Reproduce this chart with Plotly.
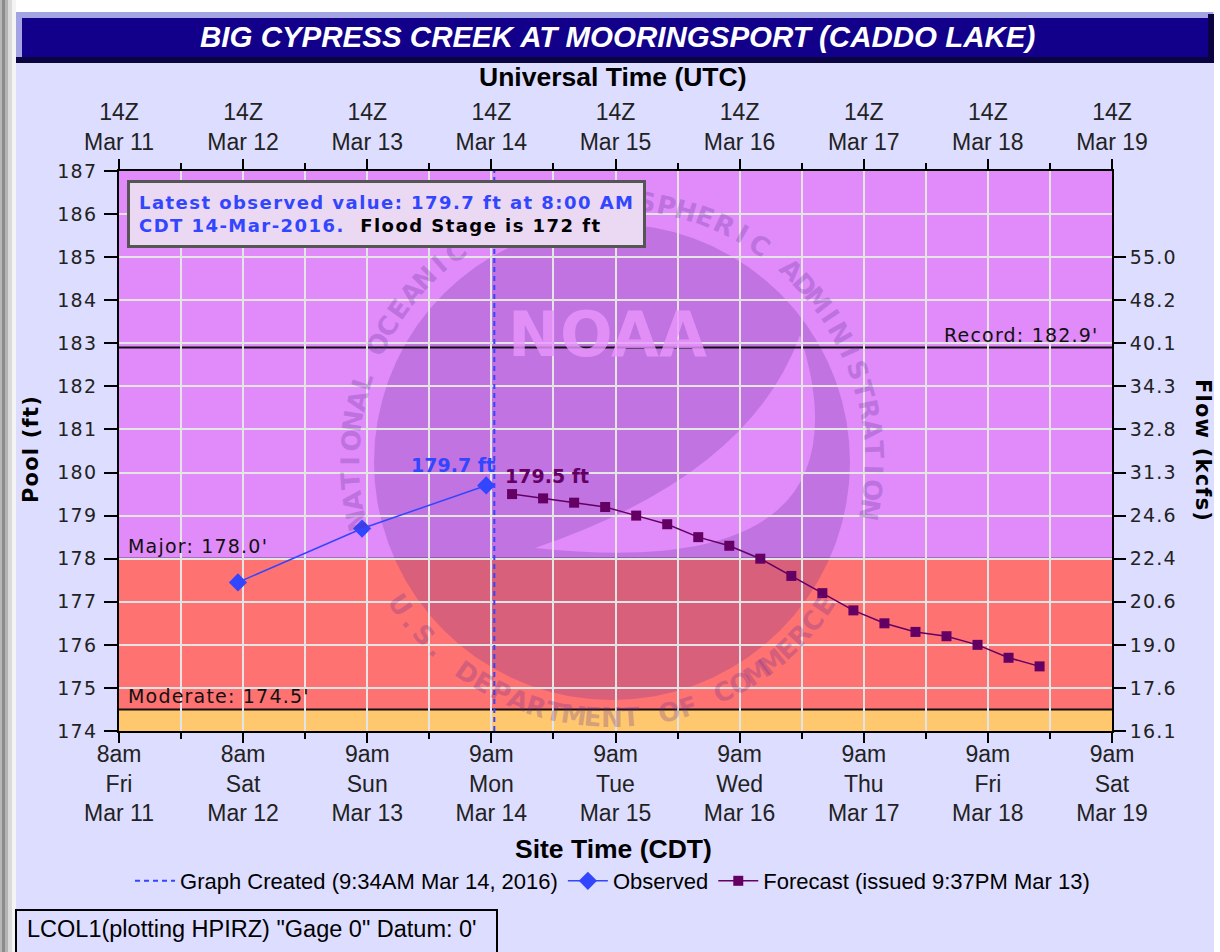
import math
import plotly.graph_objects as go

# ---------------- data ----------------
obs_times = ["2016-03-12 13:00", "2016-03-13 13:00", "2016-03-14 13:00"]
obs_values = [177.45, 178.7, 179.7]

fcst_times = ["2016-03-14 18:00", "2016-03-15 00:00", "2016-03-15 06:00", "2016-03-15 12:00",
              "2016-03-15 18:00", "2016-03-16 00:00", "2016-03-16 06:00", "2016-03-16 12:00",
              "2016-03-16 18:00", "2016-03-17 00:00", "2016-03-17 06:00", "2016-03-17 12:00",
              "2016-03-17 18:00", "2016-03-18 00:00", "2016-03-18 06:00", "2016-03-18 12:00",
              "2016-03-18 18:00", "2016-03-19 00:00"]
fcst_values = [179.5, 179.4, 179.3, 179.2, 179.0, 178.8, 178.5, 178.3, 178.0, 177.6,
               177.2, 176.8, 176.5, 176.3, 176.2, 176.0, 175.7, 175.5]

graph_created = "2016-03-14 14:34"

x_range = ["2016-03-11 14:00", "2016-03-19 14:00"]
major_ticks = ["2016-03-11 14:00", "2016-03-12 14:00", "2016-03-13 14:00", "2016-03-14 14:00",
               "2016-03-15 14:00", "2016-03-16 14:00", "2016-03-17 14:00", "2016-03-18 14:00",
               "2016-03-19 14:00"]
minor_ticks = ["2016-03-12 02:00", "2016-03-13 02:00", "2016-03-14 02:00", "2016-03-15 02:00",
               "2016-03-16 02:00", "2016-03-17 02:00", "2016-03-18 02:00", "2016-03-19 02:00"]
local_hours = ["8am", "8am", "9am", "9am", "9am", "9am", "9am", "9am", "9am"]
local_days = ["Fri", "Sat", "Sun", "Mon", "Tue", "Wed", "Thu", "Fri", "Sat"]
date_labels = ["Mar 11", "Mar 12", "Mar 13", "Mar 14", "Mar 15", "Mar 16", "Mar 17", "Mar 18", "Mar 19"]
utc_labels = ["14Z"] * 9

y_range = [174, 187]
pool_ticks = [174, 175, 176, 177, 178, 179, 180, 181, 182, 183, 184, 185, 186, 187]
flow_ticks = [174, 175, 176, 177, 178, 179, 180, 181, 182, 183, 184, 185]
flow_labels = ["16.1", "17.6", "19.0", "20.6", "22.4", "24.6", "31.3", "32.8", "34.3",
               "40.1", "48.2", "55.0"]

minor_stage = 174.0
moderate_stage = 174.5
major_stage = 178.0
record_stage = 182.9

# ---------------- styles ----------------
BG = "#DDDDFF"
BLUE = "#3246FF"
PURPLE = "#640064"
VIOLET = "#E08BF9"
RED = "#FF7272"
ORANGE = "#FFC76E"
GRID = "rgb(228,228,228)"
TICKFONT = "Liberation Sans, Arial, sans-serif"
VFONT = "DejaVu Sans, Verdana, sans-serif"
LS = "<span style='letter-spacing:1.2px'>{}</span>"

L, R, T, B = 119, 1112, 171, 731
W, H = R - L, B - T


def px(x):
    return (x - L) / W


def py(y):
    return (B - y) / H


fig = go.Figure()

fig.add_trace(go.Scatter(
    x=[graph_created, graph_created], y=y_range, mode="lines",
    line=dict(color=BLUE, width=2, dash="5px,4px"),
    name="Graph Created (9:34AM Mar 14, 2016)", hoverinfo="skip"))
fig.add_trace(go.Scatter(
    x=obs_times, y=obs_values, mode="lines+markers",
    line=dict(color=BLUE, width=1.5),
    marker=dict(symbol="diamond", size=14, color=BLUE),
    name="Observed"))
fig.add_trace(go.Scatter(
    x=fcst_times, y=fcst_values, mode="lines+markers",
    line=dict(color=PURPLE, width=1.5),
    marker=dict(symbol="square", size=10, color=PURPLE),
    name="Forecast (issued 9:37PM Mar 13)"))
# invisible trace to activate secondary axes
fig.add_trace(go.Scatter(x=x_range, y=y_range, xaxis="x2", yaxis="y2", mode="markers",
                         marker=dict(opacity=0), showlegend=False, hoverinfo="skip"))

shapes = []
# page decoration
shapes.append(dict(type="rect", xref="paper", yref="paper", x0=px(0), x1=px(1220), y0=py(0), y1=py(12),
                   fillcolor="white", line_width=0, layer="below"))
shapes.append(dict(type="rect", xref="paper", yref="paper", x0=px(1214), x1=px(1220), y0=py(0), y1=py(952),
                   fillcolor="white", line_width=0, layer="below"))
for x0, x1, c in [(0, 2, "#B8B8B8"), (2, 5, "#8C8C8C"), (5, 8, "#B4B4B4"), (8, 12, "#DADADA"), (12, 16, "#F4F4F4")]:
    shapes.append(dict(type="rect", xref="paper", yref="paper", x0=px(x0), x1=px(x1), y0=py(0), y1=py(952),
                       fillcolor=c, line_width=0, layer="below"))
# title bar
shapes.append(dict(type="rect", xref="paper", yref="paper", x0=px(16), x1=px(1213), y0=py(12), y1=py(63),
                   fillcolor="#A4A4E4", line_width=0, layer="below"))
shapes.append(dict(type="rect", xref="paper", yref="paper", x0=px(16), x1=px(1214), y0=py(57), y1=py(63),
                   fillcolor="#0A0440", line_width=0, layer="below"))
shapes.append(dict(type="rect", xref="paper", yref="paper", x0=px(1208), x1=px(1214), y0=py(14), y1=py(63),
                   fillcolor="#0A0440", line_width=0, layer="below"))
shapes.append(dict(type="rect", xref="paper", yref="paper", x0=px(22), x1=px(1208), y0=py(18), y1=py(57),
                   fillcolor="#12008A", line_width=0, layer="below"))
# bottom-left info box
shapes.append(dict(type="rect", xref="paper", yref="paper", x0=px(16), x1=px(497), y0=py(910), y1=py(956),
                   fillcolor=BG, line=dict(color="black", width=2), layer="below"))

# flood bands
for y0, y1, c in [(minor_stage, moderate_stage, ORANGE), (moderate_stage, major_stage, RED),
                  (major_stage, y_range[1], VIOLET)]:
    shapes.append(dict(type="rect", xref="paper", yref="y", x0=0, x1=1, y0=y0, y1=y1,
                       fillcolor=c, line_width=0, layer="below"))

# NOAA watermark (disc with swoop cut out)
cx, cy, rd = 612, 462, 238
pts = []
for k in range(0, 73):
    a = math.radians(-k * 5)
    pts.append((px(cx + rd * math.cos(a)), py(cy - rd * math.sin(a))))
path = "M " + " L ".join(f"{a:.4f},{b:.4f}" for a, b in pts) + " Z"
P1 = (535, 548)
P2 = (800, 335)
Co = (880, 585)
Ci = (750, 475)
path += (f" M {px(P1[0]):.4f},{py(P1[1]):.4f} Q {px(Co[0]):.4f},{py(Co[1]):.4f} {px(P2[0]):.4f},{py(P2[1]):.4f}"
         f" Q {px(Ci[0]):.4f},{py(Ci[1]):.4f} {px(P1[0]):.4f},{py(P1[1]):.4f} Z")
shapes.append(dict(type="path", xref="paper", yref="paper", path=path,
                   fillcolor="rgba(90,40,150,0.24)", line_width=0, layer="below"))

# threshold lines
for v in [moderate_stage, major_stage, record_stage]:
    shapes.append(dict(type="line", xref="paper", yref="y", x0=0, x1=1, y0=v, y1=v,
                       line=dict(color="#111111", width=2), layer="between"))

annotations = []
# watermark ring text
WM = "rgba(90,40,150,0.26)"
top_txt = "NATIONAL OCEANIC AND ATMOSPHERIC ADMINISTRATION"
rt = 262
for i, ch in enumerate(top_txt):
    if ch == " ":
        continue
    th = 193 - i * (203.5 / (len(top_txt) - 1))
    a = math.radians(th)
    annotations.append(dict(xref="paper", yref="paper", x=px(cx + rt * math.cos(a)), y=py(cy - rt * math.sin(a)),
                            text=f"<b>{ch}</b>", showarrow=False, textangle=90 - th, xanchor="center",
                            yanchor="middle", font=dict(family="DejaVu Sans", size=26, color=WM)))
bot_txt = "U.S. DEPARTMENT OF COMMERCE"
rb = 256
for i, ch in enumerate(bot_txt):
    if ch == " ":
        continue
    th = 214 + i * (112 / (len(bot_txt) - 1))
    a = math.radians(th)
    annotations.append(dict(xref="paper", yref="paper", x=px(cx + rb * math.cos(a)), y=py(cy - rb * math.sin(a)),
                            text=f"<b>{ch}</b>", showarrow=False, textangle=270 - th, xanchor="center",
                            yanchor="middle", font=dict(family="DejaVu Sans", size=26, color=WM)))
annotations.append(dict(xref="paper", yref="paper", x=px(607), y=py(334), text="<b>NOAA</b>", showarrow=False,
                        xanchor="center", yanchor="middle",
                        font=dict(family="DejaVu Sans", size=62, color="rgba(232,150,252,0.8)")))


def page_text(x, y, text, font, **kw):
    d = dict(xref="paper", yref="paper", x=px(x), y=py(y), text=text, showarrow=False,
             xanchor="center", yanchor="middle", font=font)
    d.update(kw)
    annotations.append(d)


# title
page_text(617, 37, "<b><i>BIG CYPRESS CREEK AT MOORINGSPORT (CADDO LAKE)</i></b>",
          dict(family=TICKFONT, size=29.5, color="white"))
# axis titles
page_text(613, 77, "<b>Universal Time (UTC)</b>", dict(family=TICKFONT, size=26.5, color="black"))
page_text(613, 849, "<b>Site Time (CDT)</b>", dict(family=TICKFONT, size=26.5, color="black"))
page_text(31, 449, "<b>" + LS.format("Pool (ft)") + "</b>", dict(family=VFONT, size=21, color="black"),
          textangle=-90)
page_text(1203, 450, "<b>" + LS.format("Flow (kcfs)") + "</b>", dict(family=VFONT, size=21, color="black"),
          textangle=90)

# threshold labels
TL = dict(family=VFONT, size=19, color="#111")
annotations.append(dict(xref="paper", yref="y", x=px(126), y=major_stage, xanchor="left", yanchor="bottom",
                        showarrow=False, text=LS.format("Major: 178.0'"), font=TL))
annotations.append(dict(xref="paper", yref="y", x=px(126), y=moderate_stage, xanchor="left", yanchor="bottom",
                        showarrow=False, text=LS.format("Moderate: 174.5'"), font=TL))
annotations.append(dict(xref="paper", yref="y", x=px(1101), y=record_stage, xanchor="right", yanchor="bottom",
                        showarrow=False, text=LS.format("Record: 182.9'"), font=TL))
# point labels
annotations.append(dict(x=obs_times[-1], y=obs_values[-1], xanchor="right", yanchor="bottom", xshift=11, yshift=7,
                        showarrow=False, text="<b>179.7 ft</b>", font=dict(family=VFONT, size=19, color=BLUE)))
annotations.append(dict(x=fcst_times[0], y=fcst_values[0], xanchor="left", yanchor="bottom", xshift=-9, yshift=5,
                        showarrow=False, text="<b>179.5 ft</b>", font=dict(family=VFONT, size=19, color=PURPLE)))
# latest observed box
BS = "letter-spacing:1.45px"
annotations.append(dict(xref="paper", yref="paper", x=px(127), y=py(180), xanchor="left", yanchor="top",
                        showarrow=False, align="left", bgcolor="#EBD8F3", bordercolor="#555555", borderwidth=3,
                        borderpad=9,
                        text=(f"<b><span style='color:#3246FF;{BS}'>Latest observed value: 179.7 ft at 8:00 AM</span><br>"
                              f"<span style='color:#3246FF;{BS}'>CDT 14-Mar-2016.</span>"
                              f"<span style='color:black;{BS}'>  Flood Stage is 172 ft</span></b>"),
                        font=dict(family=VFONT, size=18)))
# bottom-left text
annotations.append(dict(xref="paper", yref="paper", x=px(25), y=py(929), xanchor="left", yanchor="middle",
                        showarrow=False, text="LCOL1(plotting HPIRZ) \"Gage 0\" Datum: 0'",
                        font=dict(family=TICKFONT, size=23.5, color="black")))

bottom_text = [f"{h}<br>{d}<br>{m}" for h, d, m in zip(local_hours, local_days, date_labels)]
top_text = [f"{u}<br>{m}" for u, m in zip(utc_labels, date_labels)]
pool_text = [LS.format(v) for v in pool_ticks]
flow_text = [LS.format(v) for v in flow_labels]

fig.update_layout(
    width=1220, height=952,
    margin=dict(l=L, r=1220 - R, t=T, b=952 - B),
    paper_bgcolor=BG, plot_bgcolor=VIOLET,
    shapes=shapes, annotations=annotations,
    showlegend=True,
    legend=dict(orientation="h", x=0.497, xanchor="center", y=py(881), yanchor="middle",
                bgcolor="rgba(0,0,0,0)", font=dict(family=TICKFONT, size=22, color="black"),
                itemwidth=40),
    xaxis=dict(type="date", range=x_range, tickmode="array", tickvals=major_ticks, ticktext=bottom_text,
               ticks="outside", ticklen=10, tickwidth=2, tickcolor="black", ticklabelstandoff=-9,
               showline=True, linecolor="black", linewidth=2,
               showgrid=True, gridcolor=GRID, gridwidth=2, zeroline=False,
               tickfont=dict(family=TICKFONT, size=23, color="#222"),
               minor=dict(tickmode="array", tickvals=minor_ticks, ticks="outside", ticklen=6, tickwidth=2,
                          tickcolor="black", showgrid=True, gridcolor=GRID, gridwidth=2)),
    xaxis2=dict(type="date", range=x_range, overlaying="x", side="top", anchor="y",
                tickmode="array", tickvals=major_ticks, ticktext=top_text,
                ticks="outside", ticklen=10, tickwidth=2, tickcolor="black",
                showline=True, linecolor="black", linewidth=2, showgrid=False, zeroline=False,
                tickfont=dict(family=TICKFONT, size=23, color="#222"),
                minor=dict(tickmode="array", tickvals=minor_ticks, ticks="outside", ticklen=6, tickwidth=2,
                           tickcolor="black", showgrid=False)),
    yaxis=dict(range=y_range, tickmode="array", tickvals=pool_ticks, ticktext=pool_text,
               ticks="outside", ticklen=13, tickwidth=2, tickcolor="black", ticklabelstandoff=3,
               showline=True, linecolor="black", linewidth=2,
               showgrid=True, gridcolor=GRID, gridwidth=2, zeroline=False,
               tickfont=dict(family=VFONT, size=19, color="#222")),
    yaxis2=dict(range=y_range, overlaying="y", side="right", anchor="x",
                tickmode="array", tickvals=flow_ticks, ticktext=flow_text,
                ticks="outside", ticklen=12, tickwidth=2, tickcolor="black",
                showline=True, linecolor="black", linewidth=2, showgrid=False, zeroline=False,
                tickfont=dict(family=VFONT, size=19, color="#222")),
)

fig.write_html("out.html")
